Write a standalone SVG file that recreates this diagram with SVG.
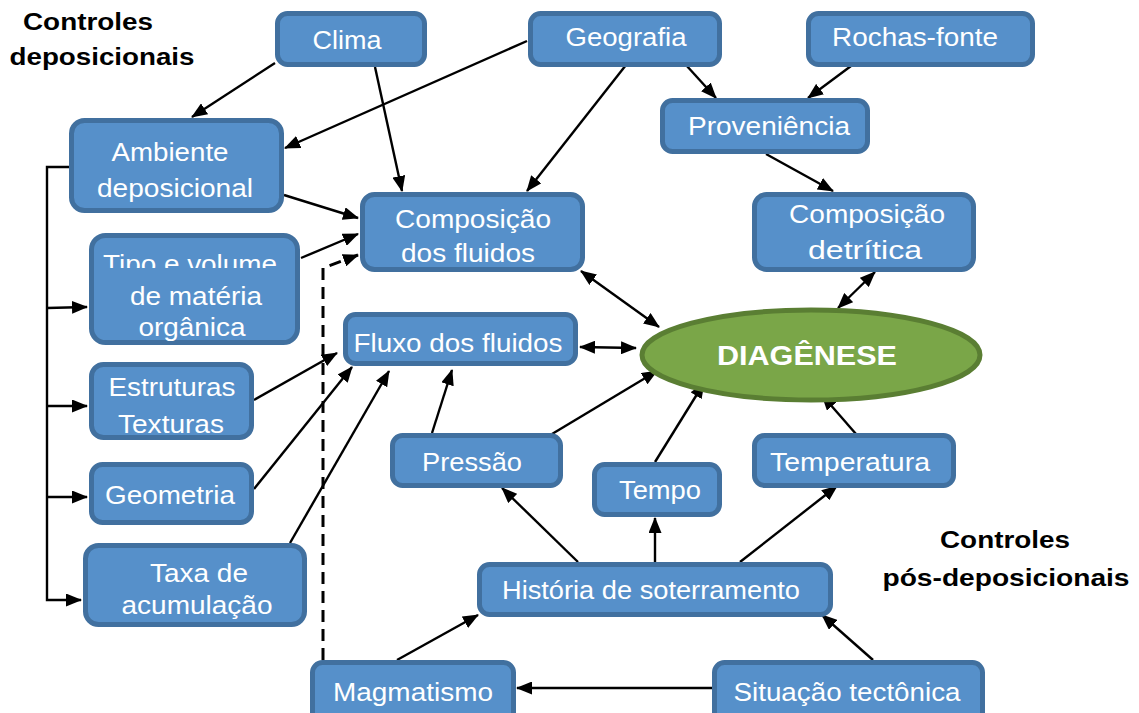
<svg xmlns="http://www.w3.org/2000/svg" width="1139" height="713" viewBox="0 0 1139 713">
<defs>
<style>
.box{fill:#5690CA;stroke:#41709F;stroke-width:5}
.t{font-family:"Liberation Sans",Arial,sans-serif;font-size:26px;fill:#FFFFFF;text-anchor:middle}
.lbl{font-family:"Liberation Sans",Arial,sans-serif;font-size:23px;font-weight:bold;fill:#000000;text-anchor:middle}
.c{fill:none;stroke:#000000;stroke-width:2.4}
.d{fill:none;stroke:#000000;stroke-width:3;stroke-dasharray:12 7}
</style>
<marker id="ah" viewBox="0 0 16 13" refX="15" refY="6.5" markerWidth="16" markerHeight="13" markerUnits="userSpaceOnUse" orient="auto-start-reverse">
<path d="M0,0 L16,6.5 L0,13 Z" fill="#000000"/>
</marker>
<clipPath id="clipTipo"><rect x="90" y="240" width="220" height="28"/></clipPath>
</defs>
<rect width="1139" height="713" fill="#FFFFFF"/>

<g id="labels">
<text class="lbl" x="88" y="30" textLength="130" lengthAdjust="spacingAndGlyphs">Controles</text>
<text class="lbl" x="102" y="65" textLength="185" lengthAdjust="spacingAndGlyphs">deposicionais</text>
<text class="lbl" x="1005" y="548" textLength="130" lengthAdjust="spacingAndGlyphs">Controles</text>
<text class="lbl" x="1006" y="586" textLength="247" lengthAdjust="spacingAndGlyphs">pós-deposicionais</text>
</g>

<g id="connectors">
<polyline class="c" points="69,167 47,167 47,600 81,600" marker-end="url(#ah)"/>
<line class="c" x1="47" y1="308" x2="87" y2="307" marker-end="url(#ah)"/>
<line class="c" x1="47" y1="406" x2="87" y2="406" marker-end="url(#ah)"/>
<line class="c" x1="47" y1="497" x2="87" y2="497" marker-end="url(#ah)"/>
<line class="c" x1="275" y1="63" x2="192" y2="117" marker-end="url(#ah)"/>
<line class="c" x1="375" y1="67" x2="402" y2="191" marker-end="url(#ah)"/>
<line class="c" x1="527" y1="41" x2="285" y2="148" marker-end="url(#ah)"/>
<line class="c" x1="626" y1="65" x2="527" y2="191" marker-end="url(#ah)"/>
<line class="c" x1="686" y1="65" x2="716" y2="98" marker-end="url(#ah)"/>
<line class="c" x1="851" y1="66" x2="808" y2="98" marker-end="url(#ah)"/>
<line class="c" x1="766" y1="154" x2="833" y2="191" marker-end="url(#ah)"/>
<line class="c" x1="284" y1="195" x2="358" y2="218" marker-end="url(#ah)"/>
<line class="c" x1="301" y1="258" x2="358" y2="234" marker-end="url(#ah)"/>
<polyline class="d" points="323,660 323,268 358,255" marker-end="url(#ah)"/>
<line class="c" x1="581" y1="271" x2="659" y2="327" marker-start="url(#ah)" marker-end="url(#ah)"/>
<line class="c" x1="580" y1="347" x2="636" y2="348" marker-start="url(#ah)" marker-end="url(#ah)"/>
<line class="c" x1="875" y1="272" x2="838" y2="308" marker-start="url(#ah)" marker-end="url(#ah)"/>
<line class="c" x1="254" y1="400" x2="337" y2="353" marker-end="url(#ah)"/>
<line class="c" x1="254" y1="489" x2="352" y2="367" marker-end="url(#ah)"/>
<line class="c" x1="290" y1="543" x2="389" y2="371" marker-end="url(#ah)"/>
<line class="c" x1="432" y1="433" x2="452" y2="370" marker-end="url(#ah)"/>
<line class="c" x1="552" y1="434" x2="657" y2="371" marker-end="url(#ah)"/>
<line class="c" x1="655" y1="462" x2="704" y2="383" marker-end="url(#ah)"/>
<line class="c" x1="856" y1="434" x2="822" y2="395" marker-end="url(#ah)"/>
<line class="c" x1="578" y1="562" x2="502" y2="488" marker-end="url(#ah)"/>
<line class="c" x1="655" y1="562" x2="655" y2="518" marker-end="url(#ah)"/>
<line class="c" x1="740" y1="562" x2="837" y2="486" marker-end="url(#ah)"/>
<line class="c" x1="397" y1="660" x2="478" y2="615" marker-end="url(#ah)"/>
<line class="c" x1="873" y1="660" x2="822" y2="615" marker-end="url(#ah)"/>
<line class="c" x1="712" y1="688" x2="517" y2="688" marker-end="url(#ah)"/>
</g>

<g id="clima"><rect class="box" x="277.5" y="13.5" width="147" height="51" rx="10"/><text class="t" x="347" y="49" textLength="69" lengthAdjust="spacingAndGlyphs">Clima</text></g>
<g id="geografia"><rect class="box" x="530.5" y="13.5" width="189" height="51" rx="10"/><text class="t" x="626" y="46" textLength="121" lengthAdjust="spacingAndGlyphs">Geografia</text></g>
<g id="rochas-fonte"><rect class="box" x="808.5" y="13.5" width="224" height="51" rx="10"/><text class="t" x="915" y="46" textLength="166" lengthAdjust="spacingAndGlyphs">Rochas-fonte</text></g>
<g id="proveniencia"><rect class="box" x="662.5" y="100.5" width="205" height="51" rx="10"/><text class="t" x="769" y="135" textLength="162" lengthAdjust="spacingAndGlyphs">Proveniência</text></g>
<g id="ambiente"><rect class="box" x="71.5" y="120.5" width="210" height="90" rx="13"/><text class="t" x="170" y="161" textLength="117" lengthAdjust="spacingAndGlyphs">Ambiente</text><text class="t" x="175" y="197" textLength="156" lengthAdjust="spacingAndGlyphs">deposicional</text></g>
<g id="composicao-fluidos"><rect class="box" x="362.5" y="194.5" width="220" height="75" rx="12"/><text class="t" x="473" y="228" textLength="156" lengthAdjust="spacingAndGlyphs">Composição</text><text class="t" x="468" y="262" textLength="134" lengthAdjust="spacingAndGlyphs">dos fluidos</text></g>
<g id="composicao-detritica"><rect class="box" x="754.5" y="194.5" width="219" height="75" rx="12"/><text class="t" x="867" y="223" textLength="156" lengthAdjust="spacingAndGlyphs">Composição</text><text class="t" x="865" y="259" textLength="114" lengthAdjust="spacingAndGlyphs">detrítica</text></g>
<g id="tipo-volume"><rect class="box" x="91.5" y="235.5" width="206" height="107" rx="14"/><text class="t" x="190" y="273" textLength="174" lengthAdjust="spacingAndGlyphs" clip-path="url(#clipTipo)">Tipo e volume</text><text class="t" x="196" y="305" textLength="132" lengthAdjust="spacingAndGlyphs">de matéria</text><text class="t" x="192" y="336" textLength="107" lengthAdjust="spacingAndGlyphs">orgânica</text></g>
<g id="fluxo"><rect class="box" x="345.5" y="314.5" width="230" height="49" rx="10"/><text class="t" x="458" y="352" textLength="209" lengthAdjust="spacingAndGlyphs">Fluxo dos fluidos</text></g>
<g id="estruturas"><rect class="box" x="91.5" y="364.5" width="160" height="73" rx="12"/><text class="t" x="172" y="396" textLength="127" lengthAdjust="spacingAndGlyphs">Estruturas</text><text class="t" x="171" y="433" textLength="106" lengthAdjust="spacingAndGlyphs">Texturas</text></g>
<g id="geometria"><rect class="box" x="91.5" y="464.5" width="160" height="58" rx="11"/><text class="t" x="170" y="504" textLength="130" lengthAdjust="spacingAndGlyphs">Geometria</text></g>
<g id="taxa"><rect class="box" x="85.5" y="545.5" width="219" height="79" rx="13"/><text class="t" x="199" y="582" textLength="98" lengthAdjust="spacingAndGlyphs">Taxa de</text><text class="t" x="197" y="614" textLength="151" lengthAdjust="spacingAndGlyphs">acumulação</text></g>
<g id="pressao"><rect class="box" x="392.5" y="435.5" width="168" height="50" rx="10"/><text class="t" x="472" y="471" textLength="100" lengthAdjust="spacingAndGlyphs">Pressão</text></g>
<g id="tempo"><rect class="box" x="594.5" y="464.5" width="125" height="50" rx="10"/><text class="t" x="660" y="499" textLength="82" lengthAdjust="spacingAndGlyphs">Tempo</text></g>
<g id="temperatura"><rect class="box" x="754.5" y="435.5" width="199" height="50" rx="10"/><text class="t" x="850" y="471" textLength="160" lengthAdjust="spacingAndGlyphs">Temperatura</text></g>
<g id="historia"><rect class="box" x="479.5" y="564.5" width="351" height="50" rx="10"/><text class="t" x="651" y="599" textLength="298" lengthAdjust="spacingAndGlyphs">História de soterramento</text></g>
<g id="magmatismo"><rect class="box" x="312.5" y="662.5" width="201" height="60" rx="10"/><text class="t" x="413" y="701" textLength="160" lengthAdjust="spacingAndGlyphs">Magmatismo</text></g>
<g id="situacao"><rect class="box" x="714.5" y="662.5" width="268" height="60" rx="10"/><text class="t" x="847" y="701" textLength="227" lengthAdjust="spacingAndGlyphs">Situação tectônica</text></g>
<g id="diagenese"><ellipse cx="811" cy="355" rx="169" ry="45" fill="#7AA648" stroke="#5A7E33" stroke-width="5"/><text x="807" y="365" font-family="Liberation Sans, Arial, sans-serif" font-size="27" font-weight="bold" fill="#FFFFFF" text-anchor="middle" textLength="180" lengthAdjust="spacingAndGlyphs">DIAGÊNESE</text></g>
</svg>
